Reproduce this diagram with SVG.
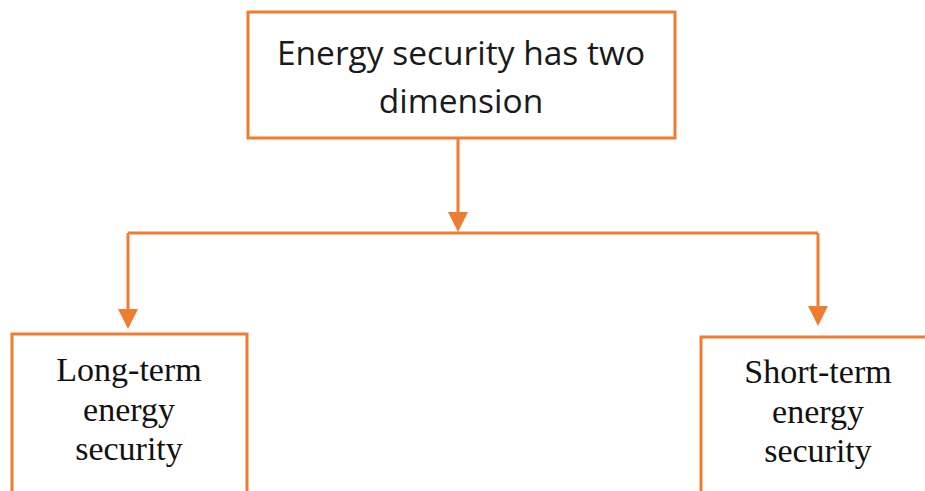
<svg xmlns="http://www.w3.org/2000/svg" width="925" height="491" viewBox="0 0 925 491">
<style>
.box{fill:#fff;stroke:#ED7D31;stroke-width:3}
.conn{fill:none;stroke:#ED7D31;stroke-width:3}
.head{fill:#ED7D31}
.t1{font-family:"Open Sans","Noto Sans",sans-serif;font-size:33.5px;fill:#1a1a1a;text-anchor:middle}
.t2{font-family:"Liberation Serif","Times New Roman",serif;font-size:34px;fill:#111;text-anchor:middle}
</style>
<rect width="925" height="491" fill="#fff"/>
<g id="connectors">
<path class="conn" d="M458,139 V212" />
<path class="head" d="M448,212 L468,212 L458,232 Z"/>
<path class="conn" d="M128,233 H818" />
<path class="conn" d="M128,233 V309" />
<path class="head" d="M118,309 L138,309 L128,329 Z"/>
<path class="conn" d="M818,233 V306" />
<path class="head" d="M808,306 L828,306 L818,326 Z"/>
</g>
<g id="top">
<rect class="box" x="248" y="12" width="427" height="126"/>
<text class="t1" x="461" y="65">Energy security has two</text>
<text class="t1" x="461" y="113">dimension</text>
</g>
<g id="long">
<rect class="box" x="12" y="334" width="235" height="170"/>
<text class="t2" x="129" y="381">Long-term</text>
<text class="t2" x="129" y="421">energy</text>
<text class="t2" x="129" y="460">security</text>
</g>
<g id="short">
<rect class="box" x="701" y="337" width="240" height="170"/>
<text class="t2" x="818" y="383">Short-term</text>
<text class="t2" x="818" y="423">energy</text>
<text class="t2" x="818" y="462">security</text>
</g>
</svg>
